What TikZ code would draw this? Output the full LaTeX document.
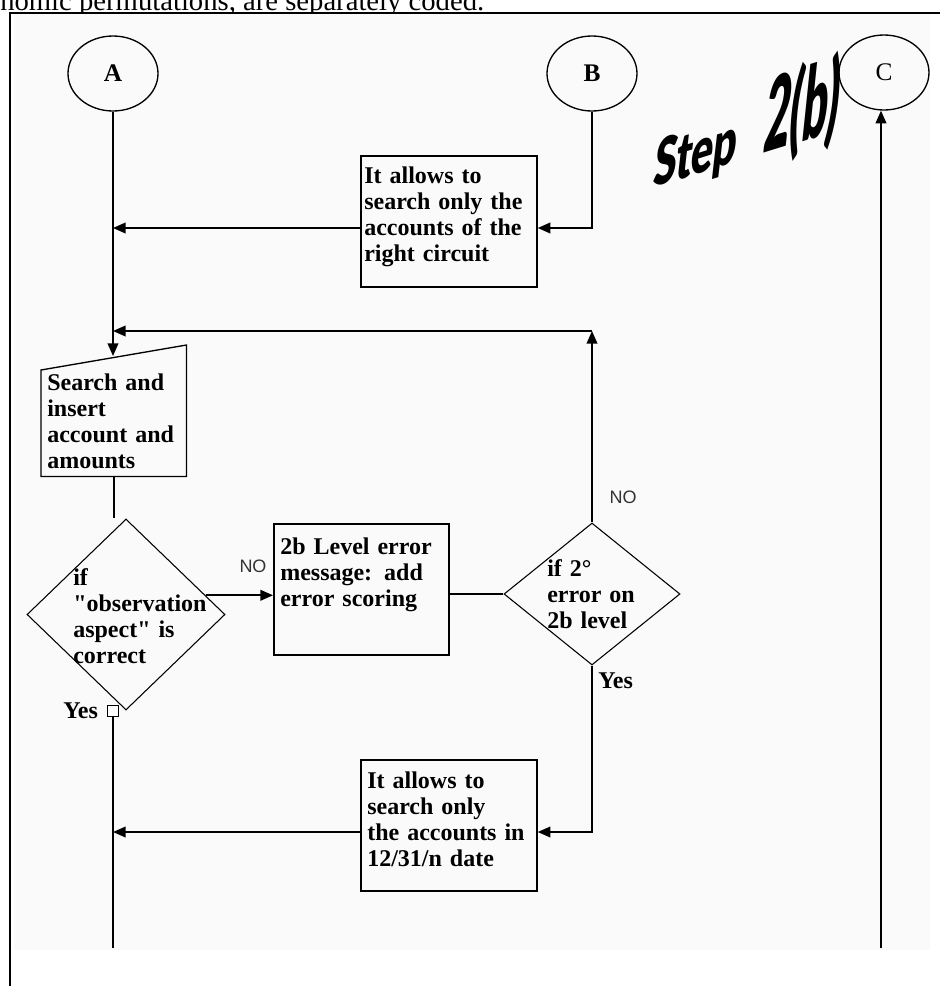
\documentclass[tikz,border=0pt]{standalone}
\usepackage{fontspec}
\setmainfont{Liberation Serif}[Ligatures=TeXOff]
\newfontfamily\labelsans{Liberation Sans}
\newfontfamily\wordartfont{Lato Black}
\usetikzlibrary{arrows.meta,shapes.geometric,calc}
\tikzset{
  ln/.style={line width=1.3pt},
  arr/.style={ln,-{Triangle[length=9.5pt,width=8pt]}},
  boxs/.style={draw,line width=1.3pt,rectangle,inner sep=0pt,anchor=north west},
  dia/.style={draw,diamond,line width=0.8pt,inner sep=0pt},
  circ/.style={draw,ellipse,line width=1pt,inner sep=0pt,minimum width=90*0.75pt,minimum height=75*0.75pt,font=\bfseries\fontsize{19pt}{20pt}\selectfont},
  txt/.style={anchor=base west,inner sep=0pt,align=left,text width=160pt,font=\bfseries\fontsize{18pt}{19.5pt}\selectfont},
  nolab/.style={inner sep=0pt,font=\labelsans\fontsize{13.5pt}{14pt}\selectfont,text=black!80},
  yeslab/.style={anchor=base west,inner sep=0pt,font=\bfseries\fontsize{18pt}{19.5pt}\selectfont},
  wa/.style={transform shape,anchor=base west,inner sep=0pt}
}
\begin{document}
\begin{tikzpicture}[x=0.75pt,y=-0.75pt]
\useasboundingbox (0,0) rectangle (940,986);
\clip (0,0) rectangle (940,986);
% page text above the figure
\node[anchor=base west,inner sep=0pt,font=\fontsize{21.5pt}{24pt}\selectfont] (pagetext) at (0,10) {nomic permutations, are separately coded.};
% figure area
\fill[white] (10,12) rectangle (940,986);
\fill[black!2] (14,14) rectangle (930,950);
\draw[line width=1.5pt] (940,12.5) -- (10,12.5) -- (10,986);

% connectors' named points
\coordinate (aEnd) at (113,948);
\coordinate (cEnd) at (881,948);
\coordinate (bj) at (592,228);
\coordinate (fb) at (592,331);
\coordinate (c3) at (592,832);
\coordinate (miIn) at (113,356);

% circles
\node[circ] (A) at (113,73.5) {A};
\node[circ] (B) at (592,73.5) {B};
\node[circ,font=\fontsize{19pt}{20pt}\selectfont] (C) at (884,72.5) {C};

% boxes
\node[boxs,minimum width=176*0.75pt,minimum height=131*0.75pt] (b1) at (360,155) {};
\node[txt] (t1) at (364,183) {It allows to\\search only the\\accounts of the\\right circuit};

\node[boxs,minimum width=175*0.75pt,minimum height=131*0.75pt] (b2) at (273,523) {};
\node[txt] (t2) at (280,554) {2b Level error\\message: add\\error scoring};

\node[boxs,minimum width=176*0.75pt,minimum height=131*0.75pt] (b3) at (360,759) {};
\node[txt] (t3) at (367,788) {It allows to\\search only\\the accounts in\\12/31/n date};

% manual input shape
\node[anchor=north west,inner sep=0pt,minimum width=145*0.75pt,minimum height=131*0.75pt] (mi) at (41,345) {};
\draw[line width=1pt] (mi.south west) -- (mi.south east) -- (mi.north east) -- ($(mi.north west)+(0,25)$) -- cycle;
\node[txt] (tm) at (47,390) {Search and\\insert\\account and\\amounts};

% diamonds
\node[dia,minimum width=198*0.75pt,minimum height=191*0.75pt] (d1) at (126,614.5) {};
\node[txt] (td1) at (73,585) {if\\"observation\\aspect" is\\correct};
\node[dia,minimum width=176*0.75pt,minimum height=142*0.75pt] (d2) at (592,594) {};
\node[txt] (td2) at (547,576) {if 2°\\error on\\2b level};

% yes square
\node[draw,fill=white,line width=0.8pt,rectangle,inner sep=0pt,minimum size=11*0.75pt] (ys) at (113,711) {};

% labels
\node[nolab] (no1) at (253,566) {NO};
\node[nolab] (no2) at (623,497) {NO};
\node[yeslab] (yes1) at (63,718) {Yes};
\node[yeslab] (yes2) at (598,688) {Yes};

% connectors
\draw[arr] (A.south) -- (miIn);
\draw[arr] (B.south) -- (bj) -- (b1.east |- bj);
\draw[arr] (b1.west |- bj) -- (A.south |- bj);
\draw[arr] (d2.north) -- (fb);
\draw[arr] (fb) -- (A.south |- fb);
\draw[ln] (mi.south) -- (mi.south |- d1.north);
\draw[ln] (ys.south) -- (aEnd);
\draw[arr] ($(d1.east)!0.2!(d1.north)$) coordinate (p1) -- (p1 -| b2.west);
\draw[ln] (b2.east |- d2.west) -- (d2.west);
\draw[arr] (d2.south) -- (c3) -- (b3.east |- c3);
\draw[arr] (b3.west |- c3) -- (A.south |- c3);
\draw[arr] (cEnd) -- (C.south -| cEnd);

% word art title
\begin{scope}[cm={1.1,0.341,0.2,1.75,(652,188)}]
  \node[wa,font=\wordartfont\fontsize{28pt}{30pt}\selectfont] (w1) at (0,0) {Step};
\end{scope}
\begin{scope}[cm={1.06,0.329,0.26,2.5,(762,154)}]
  \node[wa,font=\wordartfont\fontsize{31pt}{34pt}\selectfont] (w2) at (0,0) {2(b)};
\end{scope}
\end{tikzpicture}
\end{document}
